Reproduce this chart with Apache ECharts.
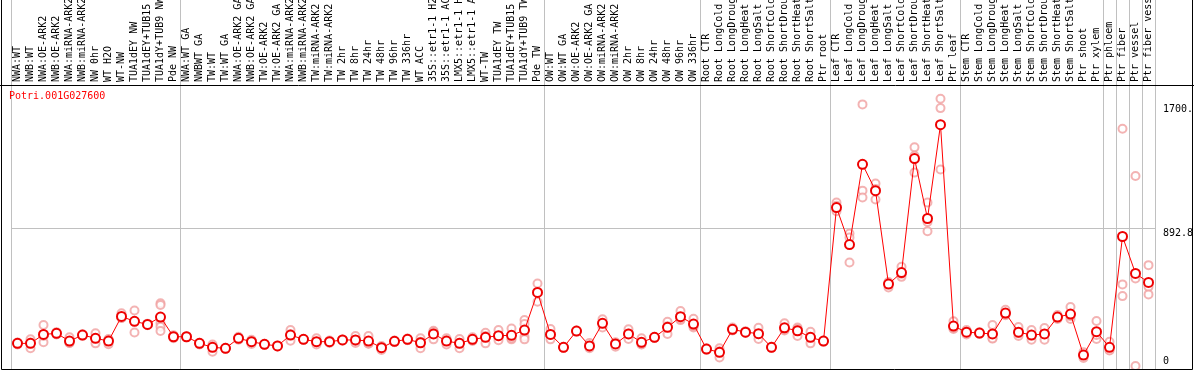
<!DOCTYPE html>
<html><head><meta charset="utf-8">
<script src="https://cdn.jsdelivr.net/npm/echarts@6/dist/echarts.min.js"></script>
<style>html,body{margin:0;padding:0;background:#fff;overflow:hidden}#c{width:1194px;height:370px}</style>
</head><body><div id="c"></div>
<script>
const geneId = 'Potri.001G027600';
const categories = [
 'NWA:WT','NWB:WT','NWA:OE-ARK2','NWB:OE-ARK2','NWA:miRNA-ARK2','NWB:miRNA-ARK2','NW 0hr','WT H2O','WT-NW','TUA1dEY NW','TUA1dEY+TUB15 NW','TUA1dY+TUB9 NW','Pde NW',
 'NWA:WT GA','NWBWT GA','TW:WT','TW:WT GA','NWA:OE-ARK2 GA','NWB:OE-ARK2 GA','TW:OE-ARK2','TW:OE-ARK2 GA','NWA:miRNA-ARK2','NWB:miRNA-ARK2','TW:miRNA-ARK2','TW:miRNA-ARK2','TW 2hr','TW 8hr','TW 24hr','TW 48hr','TW 96hr','TW 336hr','WT ACC','35S::etr1-1 H2O','35S::etr1-1 ACC','LMX5::etr1-1 H2O','LMX5::etr1-1 ACC','WT-TW','TUA1dEY TW','TUA1dEY+TUB15 TW','TUA1dY+TUB9 TW','Pde TW',
 'OW:WT','OW:WT GA','OW:OE-ARK2','OW:OE-ARK2 GA','OW:miRNA-ARK2','OW:miRNA-ARK2','OW 2hr','OW 8hr','OW 24hr','OW 48hr','OW 96hr','OW 336hr',
 'Root CTR','Root LongCold','Root LongDrought','Root LongHeat','Root LongSalt','Root ShortCold','Root ShortDrought','Root ShortHeat','Root ShortSalt','Ptr root',
 'Leaf CTR','Leaf LongCold','Leaf LongDrought','Leaf LongHeat','Leaf LongSalt','Leaf ShortCold','Leaf ShortDrought','Leaf ShortHeat','Leaf ShortSalt','Ptr leaf',
 'Stem CTR','Stem LongCold','Stem LongDrought','Stem LongHeat','Stem LongSalt','Stem ShortCold','Stem ShortDrought','Stem ShortHeat','Stem ShortSalt','Ptr shoot','Ptr xylem',
 'Ptr phloem','Ptr fiber','Ptr vessel','Ptr fiber vessel'
];
const means = [
 147,147,205,212,162,201,180,162,322,290,270,318,190,
 190,147,121,115,180,158,141,130,201,173,158,158,169,169,162,119,160,173,151,208,162,147,173,186,197,199,233,478,
 205,121,227,130,277,143,208,154,186,251,320,272,
 110,89,238,220,210,121,248,229,186,162,
 1029,789,1310,1139,532,607,1347,958,1567,259,
 220,214,208,344,220,201,208,318,337,71,223,
 121,841,601,543
];
const replicates = [
 [140,150,152],[173,115,152],[266,154,195],[205,220,212],[186,150,150],[196,206,200],[212,147,180],[175,141,170],[342,312,312],[361,218,290],[265,275,270],[407,396,277,255,227],[200,180,190],
 [190,186,194],[150,140,151],[130,93,140],[118,112,115],[190,170,180],[170,143,161],[141,138,144],[133,127,130],[233,164,206],[173,170,176],[180,140,155],[165,150,159],[172,165,170],[195,150,162],[195,145,146],[130,104,123],[165,155,160],[178,168,173],[180,115,158],[229,173,222],[180,140,166],[175,115,151],[186,162,171],[216,147,195],[233,190,168],[244,173,180],[298,272,190,173],[536,417,481],
 [240,173,202],[125,117,121],[230,224,227],[150,115,125],[303,250,278],[150,125,154],[238,175,211],[180,140,142],[190,182,186],[287,208,258],[357,298,305],[307,250,259],
 [115,105,110],[115,56,96],[250,230,234],[225,215,220],[248,175,207],[125,118,120],[277,230,237],[250,195,242],[222,147,189],[165,158,163],
 [1062,1040,1005],[861,835,672],[1699,1139,1094],[1185,1150,1081],[540,510,546],[644,579,598],[1420,1256,1365],[1062,936,875],[1736,1675,1276],[290,240,247],
 [233,205,222],[220,208,214],[266,180,178],[365,330,337],[253,195,212],[233,170,200],[246,170,208],[331,305,318],[383,305,323],[90,52,71],[292,175,202],
 [158,104,101],[1541,530,454],[1234,0,569],[655,514,465]
];
const yTickValues = [892.8, 1700];
const yTickLabels = ['892.8', '1700.'];
const yZeroValue = [0];
const gridLineValue = 892.8;
const groupStarts = [0, 13, 41, 53, 63, 73, 84, 85, 86, 87];

const mono = 'DejaVu Sans Mono';
const repData = [];
replicates.forEach((arr, i) => arr.forEach(v => repData.push([i, v])));

const chart = echarts.init(document.getElementById('c'), null, {renderer: 'canvas'});
const yBase = {type: 'value', gridIndex: 1, position: 'right', offset: 0, min: 0, max: 1825,
  axisLine: {show: false}, axisTick: {show: false}, splitLine: {show: false}};
chart.setOption({
  animation: false,
  backgroundColor: '#fff',
  title: {text: geneId, left: 9, top: 91, padding: 0,
    textStyle: {color: '#ff0000', fontSize: 10, fontFamily: mono, fontWeight: 'normal'}},
  grid: [
    {left: 11, right: 39, top: 0, bottom: 0, outerBoundsMode: 'none', containLabel: false},
    {left: 11, right: 39, top: 85, bottom: 4, outerBoundsMode: 'none', containLabel: false}
  ],
  xAxis: [
    {gridIndex: 0, type: 'category', data: categories, axisLine: {show: false}, axisTick: {show: false},
     axisLabel: {show: false},
     splitLine: {show: true, interval: (i) => groupStarts.includes(i), lineStyle: {color: '#c0c0c0', width: 1}}},
    {gridIndex: 1, type: 'category', position: 'top', data: categories, axisLine: {show: false}, axisTick: {show: false},
     splitLine: {show: false},
     axisLabel: {interval: 0, rotate: 90, margin: 3, fontSize: 10, fontFamily: mono, color: '#000', padding: [3, 0, 0, 0]}}
  ],
  yAxis: [
    {gridIndex: 0, type: 'value', show: false, min: 0, max: 1, splitLine: {show: false}},
    Object.assign({}, yBase, {axisLabel: {customValues: yTickValues, verticalAlign: 'top', margin: 8,
      fontSize: 10, fontFamily: mono, color: '#000',
      formatter: (v) => { const k = yTickValues.indexOf(v); return k >= 0 ? yTickLabels[k] : String(v); }}}),
    Object.assign({}, yBase, {axisLabel: {customValues: yZeroValue, verticalAlign: 'bottom', margin: 8,
      fontSize: 10, fontFamily: mono, color: '#000'}})
  ],
  series: [
    {type: 'scatter', xAxisIndex: 1, yAxisIndex: 1, data: repData, symbol: 'emptyCircle', symbolSize: 8,
     itemStyle: {color: '#f0a0a0', borderWidth: 1.5}, z: 2, silent: true,
     markLine: {silent: true, symbol: 'none', label: {show: false}, z: 1,
       lineStyle: {color: '#c0c0c0', width: 1, type: 'solid'}, data: [{yAxis: gridLineValue}]}},
    {type: 'line', xAxisIndex: 1, yAxisIndex: 1, data: means, symbol: 'emptyCircle', symbolSize: 9,
     lineStyle: {color: '#ff0000', width: 1}, itemStyle: {color: '#ee0000', borderWidth: 2}, z: 3, silent: true}
  ],
  graphic: [
    {type: 'rect', silent: true, z: 100, shape: {x: 1.5, y: -1.5, width: 1191, height: 371},
     style: {fill: 'none', stroke: '#000', lineWidth: 1}},
    {type: 'line', silent: true, z: 100, shape: {x1: 0, y1: 85.5, x2: 1194, y2: 85.5},
     style: {stroke: '#000', lineWidth: 1}}
  ]
});
</script></body></html>
